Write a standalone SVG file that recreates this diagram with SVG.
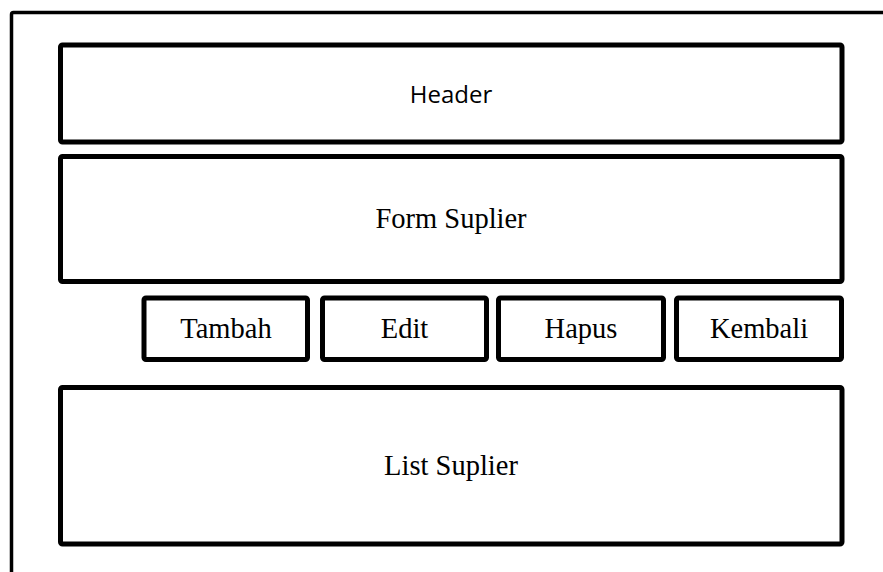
<svg xmlns="http://www.w3.org/2000/svg" width="883" height="572" viewBox="0 0 883 572">
<style>
.box{fill:#fff;stroke:#000;stroke-width:5;stroke-linejoin:round}
.frame{fill:#fff;stroke:#000;stroke-width:3.5;stroke-linejoin:round}
.t{font-family:"Liberation Serif","Times New Roman",serif;font-size:28.5px;fill:#000;text-anchor:middle}
.h{font-family:"Open Sans","Liberation Sans",sans-serif;font-size:24px;fill:#000;text-anchor:middle}
</style>
<rect width="883" height="572" fill="#fff"/>
<rect id="frame" class="frame" x="11.5" y="12.5" width="900" height="600" rx="2"/>
<g id="header"><rect class="box" x="60.5" y="45" width="781.5" height="97" rx="2"/><text class="h" x="451" y="103">Header</text></g>
<g id="form-suplier"><rect class="box" x="60.5" y="156.5" width="781.5" height="125" rx="2"/><text class="t" x="451" y="228">Form Suplier</text></g>
<g id="tambah"><rect class="box" x="144" y="298" width="163.5" height="61.5" rx="2"/><text class="t" x="226" y="337.5">Tambah</text></g>
<g id="edit"><rect class="box" x="322.5" y="298" width="164" height="61.5" rx="2"/><text class="t" x="404.5" y="337.5">Edit</text></g>
<g id="hapus"><rect class="box" x="498.5" y="298" width="165" height="61.5" rx="2"/><text class="t" x="581" y="337.5">Hapus</text></g>
<g id="kembali"><rect class="box" x="676.5" y="298" width="165" height="61.5" rx="2"/><text class="t" x="759" y="337.5">Kembali</text></g>
<g id="list-suplier"><rect class="box" x="60.5" y="387.5" width="781.5" height="156.5" rx="2"/><text class="t" x="451" y="475">List Suplier</text></g>
<g id="connectors"></g>
</svg>
